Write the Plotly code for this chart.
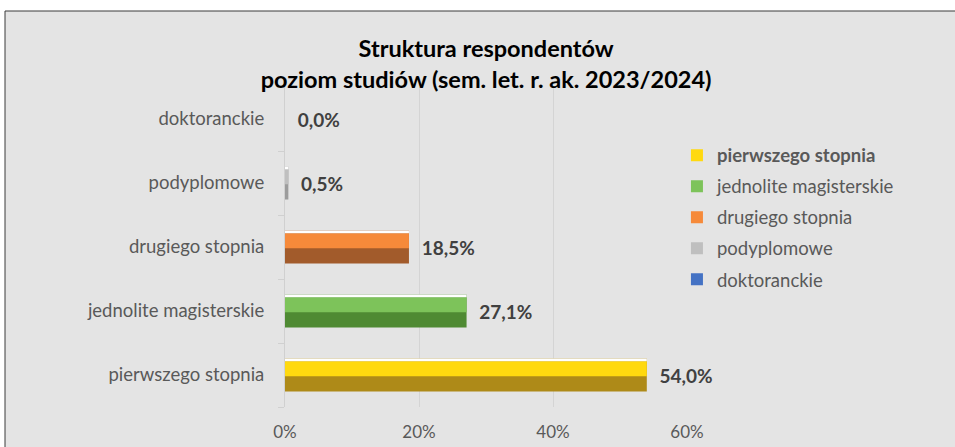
import plotly.graph_objects as go

# Struktura respondentów wg poziomu studiów
categories = ["pierwszego stopnia", "jednolite magisterskie", "drugiego stopnia",
              "podyplomowe", "doktoranckie"]
shares = [54.0, 27.1, 18.5, 0.5, 0.0]
x_ticks = [0, 20, 40, 60]
x_tick_labels = [f"{v}%" for v in x_ticks]

LIGHT = ["#FFD90F", "#7DC35A", "#F68A3A", "#BFBFBF", "#4472C4"]
DARK = ["#AE8A18", "#4F8A33", "#A25B2B", "#9C9C9C", "#2F528F"]
FONT = "Lato"
GRAY = "#595959"

fig = go.Figure()

for i, (cat, val) in enumerate(zip(categories, shares)):
    # darker lower face of the bevelled bar, carries the value label
    fig.add_trace(go.Bar(
        y=[cat], x=[val], orientation="h", width=0.516,
        marker=dict(color=DARK[i], line_width=0),
        texttemplate="  <b>%{x:.1f}%</b>", textposition="outside",
        textfont=dict(family=FONT, size=19, color="#404040"),
        cliponaxis=False, showlegend=False, hoverinfo="skip",
    ))
    # lighter upper face
    fig.add_trace(go.Bar(
        y=[cat], x=[val], orientation="h", width=0.235, offset=-0.02,
        marker=dict(color=LIGHT[i], line_width=0),
        name=f"<b>{cat}</b>" if i == 0 else cat,
        legendrank=i + 1, legendgroup=cat, showlegend=True,
    ))
    # white highlight on the top edge
    fig.add_trace(go.Bar(
        y=[cat], x=[val], orientation="h", width=0.045, offset=0.213,
        marker=dict(color="white", line_width=0),
        showlegend=False, hoverinfo="skip",
    ))

# chart frame (grey panel with dark outline)
fig.add_shape(type="rect", xref="paper", yref="paper", layer="below",
              x0=-0.6965, x1=1.7, y0=-0.2, y1=1.2375,
              fillcolor="#E4E4E4", line=dict(color="#3A3A3A", width=1))

fig.update_layout(
    width=955, height=447,
    barmode="overlay",
    separators=", ",
    paper_bgcolor="white", plot_bgcolor="rgba(0,0,0,0)",
    margin=dict(l=285, r=268, t=87, b=40),
    font=dict(family=FONT, size=19, color=GRAY),
    title=dict(
        text="<b>Struktura respondentów<br>poziom studiów (sem. let. r. ak. 2023/2024)</b>",
        x=0.509, xanchor="center", xref="container",
        y=0.8725, yanchor="top", yref="container",
        font=dict(family=FONT, size=23.5, color="black"),
    ),
    legend=dict(
        x=0.975, xanchor="left", y=0.845, yanchor="top",
        font=dict(family=FONT, size=18.5, color=GRAY),
        tracegroupgap=4, bgcolor="rgba(0,0,0,0)",
    ),
    xaxis=dict(
        range=[0, 60], tickvals=x_ticks, ticktext=x_tick_labels,
        showgrid=True, gridcolor="#D4D4D4", gridwidth=1,
        zeroline=False, showline=False, ticklabelstandoff=13, automargin=False,
        tickfont=dict(family=FONT, size=17, color=GRAY),
    ),
    yaxis=dict(
        categoryorder="array", categoryarray=categories,
        showline=True, linecolor="#D0D0D0", linewidth=1,
        ticks="outside", tickson="boundaries", ticklen=6, tickcolor="#D0D0D0",
        ticklabelstandoff=16, automargin=False,
        tickfont=dict(family=FONT, size=18.5, color=GRAY),
    ),
)

# drop the default page margin so the figure sits at the window origin
fig.write_html("out.html", config={"displayModeBar": False}, post_script=(
    "document.body.style.margin='0';document.body.style.overflow='hidden';"))
